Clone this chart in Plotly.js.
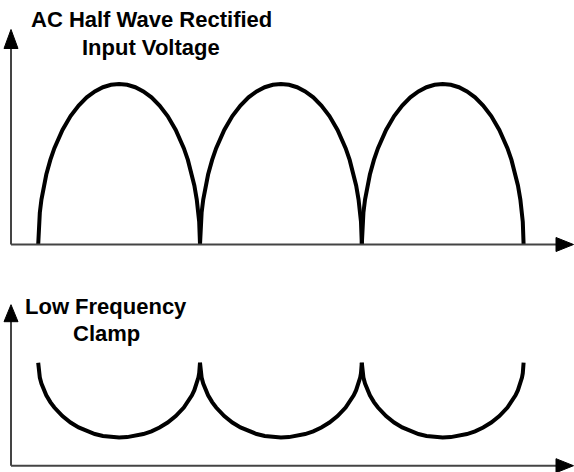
<!DOCTYPE html>
<html>
<head>
<meta charset="utf-8">
<script src="https://cdn.plot.ly/plotly-3.0.1.min.js"></script>
<style>html,body{margin:0;padding:0;background:#fff}#chart{width:574px;height:472px}</style>
</head>
<body>
<div id="chart"></div>
<script>
// ---- data ----
const periodEdges = [0, 1, 2, 3];          // half-cycle boundaries
const inputPeak = 1.0;                     // rectified input peak
const clampTop = 1.0;                      // clamp level at cusps
const clampTrough = 0.274;                 // clamp minimum
// arch profile (fraction across half-cycle -> fraction of height)
const profileU = [0,0.005,0.01,0.02,0.035,0.05,0.075,0.1,0.15,0.2,0.25,0.3,0.35,0.4,0.45,0.5,0.55,0.6,0.65,0.7,0.75,0.8,0.85,0.9,0.925,0.95,0.965,0.98,0.99,0.995,1];
const profileH = [0,0.141,0.199,0.28,0.368,0.436,0.527,0.6,0.714,0.8,0.866,0.917,0.954,0.98,0.995,1,0.995,0.98,0.954,0.917,0.866,0.8,0.714,0.6,0.527,0.436,0.368,0.28,0.199,0.141,0];
const topTitle = ["AC Half Wave Rectified", "Input Voltage"];
const bottomTitle = ["Low Frequency", "Clamp"];

// ---- build ----
const W = 574, H = 472;
const px = v => v / W;
const py = v => 1 - v / H;

const traces = [];
for (let i = 0; i < periodEdges.length - 1; i++) {
  const a = periodEdges[i], b = periodEdges[i + 1];
  const xs = profileU.map(u => a + u * (b - a));
  traces.push({
    x: xs, y: profileH.map(h => inputPeak * h),
    xaxis: 'x', yaxis: 'y', mode: 'lines', type: 'scatter',
    line: {color: '#000', width: 4}, hoverinfo: 'skip', showlegend: false
  });
  traces.push({
    x: xs, y: profileH.map(h => clampTop - (clampTop - clampTrough) * h),
    xaxis: 'x', yaxis: 'y2', mode: 'lines', type: 'scatter',
    line: {color: '#000', width: 4}, hoverinfo: 'skip', showlegend: false
  });
}

const axColor = '#444';
const hidden = {showgrid: false, zeroline: false, showticklabels: false, ticks: '', showline: false, fixedrange: true};

function axisShapes(yref, upLen, headLen) {
  return [
    {type: 'line', xref: 'paper', yref: yref, x0: px(11), x1: px(557), y0: 0, y1: 0,
     line: {color: axColor, width: 2}},
    {type: 'path', xref: 'paper', yref: yref, xsizemode: 'pixel', ysizemode: 'pixel',
     xanchor: 1, yanchor: 0, path: 'M-0.5,0 L-18,7 L-18,-7 Z',
     fillcolor: '#000', line: {color: '#000', width: 1}},
    {type: 'line', xref: 'paper', yref: yref, ysizemode: 'pixel', yanchor: 0,
     x0: px(11), x1: px(11), y0: 0, y1: upLen - headLen + 1,
     line: {color: axColor, width: 2}},
    {type: 'path', xref: 'paper', yref: yref, xsizemode: 'pixel', ysizemode: 'pixel',
     xanchor: px(11), yanchor: 0,
     path: 'M0,' + upLen + ' L-7,' + (upLen - headLen) + ' L7,' + (upLen - headLen) + ' Z',
     fillcolor: '#000', line: {color: '#000', width: 1}}
  ];
}

const font = {family: 'Liberation Sans, Arial, sans-serif', size: 22, color: '#000'};
function label(text, xc, topPx) {
  return {text: '<b>' + text + '</b>', xref: 'paper', yref: 'paper', x: px(xc), y: py(topPx),
          xanchor: 'center', yanchor: 'top', showarrow: false, font: font};
}

const layout = {
  width: W, height: H,
  margin: {l: 0, r: 0, t: 0, b: 0, pad: 0},
  paper_bgcolor: '#fff', plot_bgcolor: '#fff',
  xaxis: Object.assign({range: [-0.2361, 3.3115], domain: [0, 1]}, hidden),
  yaxis: Object.assign({range: [-0.06542, 1.5234], domain: [1 - 255 / H, 1], anchor: 'x'}, hidden),
  yaxis2: Object.assign({range: [-0.0612, 2.0165], domain: [0, 1 - 258 / H], anchor: 'x'}, hidden),
  shapes: axisShapes('y', 215, 19).concat(axisShapes('y2', 161, 17)),
  annotations: [
    label(topTitle[0], 151.5, 4.8),
    label(topTitle[1], 151, 32.8),
    label(bottomTitle[0], 105.5, 291.5),
    label(bottomTitle[1], 106, 319.1)
  ]
};

Plotly.newPlot('chart', traces, layout, {displayModeBar: false, staticPlot: true});
</script>
</body>
</html>
